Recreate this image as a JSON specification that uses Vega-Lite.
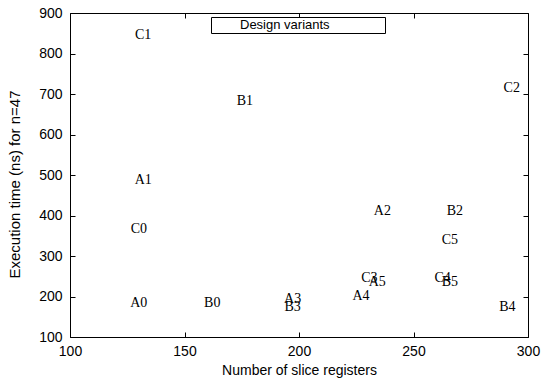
{
  "$schema": "https://vega.github.io/schema/vega-lite/v6.json",
  "width": 458,
  "height": 324,
  "autosize": {"type": "none"},
  "padding": {"left": 70, "top": 13, "right": 14, "bottom": 41},
  "background": "white",
  "config": {
    "view": {"stroke": "black", "strokeWidth": 1},
    "axis": {
      "grid": false,
      "domain": false,
      "tickColor": "black",
      "tickSize": -5,
      "labelColor": "black",
      "labelFont": "Liberation Sans",
      "labelFontSize": 14,
      "titleColor": "black",
      "titleFont": "Liberation Sans",
      "titleFontWeight": "normal",
      "labelFlush": false,
      "labelOverlap": false
    }
  },
  "data": {
    "values": [
      {"name": "A0", "regs": 130, "time": 183, "series": "Design variants"},
      {"name": "A1", "regs": 132, "time": 488, "series": "Design variants"},
      {"name": "A2", "regs": 236.4, "time": 412, "series": "Design variants"},
      {"name": "A3", "regs": 197.2, "time": 194, "series": "Design variants"},
      {"name": "A4", "regs": 227.1, "time": 202, "series": "Design variants"},
      {"name": "A5", "regs": 234.2, "time": 237, "series": "Design variants"},
      {"name": "B0", "regs": 162.1, "time": 183, "series": "Design variants"},
      {"name": "B1", "regs": 176.4, "time": 683, "series": "Design variants"},
      {"name": "B2", "regs": 268.1, "time": 412, "series": "Design variants"},
      {"name": "B3", "regs": 197.2, "time": 173, "series": "Design variants"},
      {"name": "B4", "regs": 291, "time": 175, "series": "Design variants"},
      {"name": "B5", "regs": 265.9, "time": 237, "series": "Design variants"},
      {"name": "C0", "regs": 130.1, "time": 366, "series": "Design variants"},
      {"name": "C1", "regs": 131.9, "time": 846, "series": "Design variants"},
      {"name": "C2", "regs": 292.9, "time": 716, "series": "Design variants"},
      {"name": "C3", "regs": 230.7, "time": 245, "series": "Design variants"},
      {"name": "C4", "regs": 262.7, "time": 245, "series": "Design variants"},
      {"name": "C5", "regs": 265.9, "time": 340, "series": "Design variants"}
    ]
  },
  "resolve": {"axis": {"x": "independent", "y": "independent"}},
  "layer": [
    {
      "mark": {"type": "text", "font": "Liberation Serif", "fontSize": 14, "baseline": "middle", "align": "center"},
      "encoding": {
        "x": {
          "field": "regs", "type": "quantitative",
          "scale": {"domain": [100, 300], "nice": false, "zero": false},
          "axis": {"orient": "bottom", "values": [100, 150, 200, 250, 300], "title": "Number of slice registers", "titleFontSize": 14, "titleY": 33, "titleBaseline": "middle", "labelPadding": 12}
        },
        "y": {
          "field": "time", "type": "quantitative",
          "scale": {"domain": [100, 900], "nice": false, "zero": false},
          "axis": {"orient": "left", "values": [100, 200, 300, 400, 500, 600, 700, 800, 900], "title": "Execution time (ns) for n=47", "titleFontSize": 15, "titleX": -56, "titleY": 171, "titleBaseline": "middle", "titleAngle": 270, "labelPadding": 13}
        },
        "text": {"field": "name"},
        "color": {
          "field": "series", "type": "nominal",
          "scale": {"range": ["black"]},
          "legend": {
            "title": null,
            "orient": "none",
            "legendX": 141,
            "legendY": 4,
            "strokeColor": "black",
            "fillColor": "white",
            "padding": 1,
            "symbolOpacity": 0,
            "symbolSize": 4,
            "symbolOffset": 164,
            "labelOffset": -149,
            "labelFont": "Liberation Sans",
            "labelFontSize": 13,
            "labelColor": "black"
          }
        }
      }
    },
    {
      "mark": {"type": "point", "opacity": 0},
      "encoding": {
        "x": {"field": "regs", "type": "quantitative", "axis": {"orient": "top", "values": [100, 150, 200, 250, 300], "labels": false, "title": null}},
        "y": {"field": "time", "type": "quantitative", "axis": {"orient": "right", "values": [100, 200, 300, 400, 500, 600, 700, 800, 900], "labels": false, "title": null}}
      }
    }
  ]
}
